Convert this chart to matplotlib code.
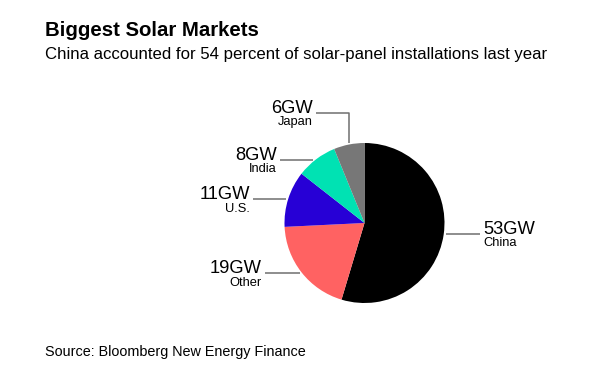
import numpy as np
import matplotlib.pyplot as plt

# solar installations last year, GW
markets = ['China', 'Other', 'U.S.', 'India', 'Japan']
gigawatts = [53, 19, 11, 8, 6]
colors = ['#000000', '#ff6262', '#2700d6', '#00e2b3', '#777777']

# label anchors in image pixels (x of text edge, baseline y, alignment)
label_pos = {
    'China': (483, 234, 'left'),
    'Other': (262, 273, 'right'),
    'U.S.': (250, 199, 'right'),
    'India': (277, 160, 'right'),
    'Japan': (313, 113, 'right'),
}

plt.rcParams['font.family'] = ['Liberation Sans', 'DejaVu Sans']

W, H = 614, 373
fig = plt.figure(figsize=(W / 100, H / 100), dpi=100)
ax = fig.add_axes([0, 0, 1, 1])

cx, cy, r = 364.5, H - 223, 80
wedges, _ = ax.pie(gigawatts, colors=colors, startangle=90, counterclock=False,
                   center=(cx, cy), radius=r, wedgeprops={'linewidth': 0})
ax.set_aspect('equal')
ax.set_xlim(0, W)
ax.set_ylim(0, H)
ax.axis('off')

line_kw = dict(color='#6f6f6f', lw=1.1, solid_capstyle='butt')

for name, val, w in zip(markets, gigawatts, wedges):
    tx, ty, ha = label_pos[name]
    y = H - ty
    ax.text(tx, y, f'{val}GW', ha=ha, va='baseline', fontsize=13.2, color='black')
    ax.text(tx, y - 12.5, name, ha=ha, va='baseline', fontsize=9.3, color='black')
    dy = y - cy
    if abs(dy) < r:
        # straight leader to the edge of the pie
        ex = np.sqrt(r ** 2 - dy ** 2)
        if ha == 'left':
            ax.plot([cx + ex + 2, tx - 3], [y, y], **line_kw)
        else:
            ax.plot([tx + 3, cx - ex - 2], [y, y], **line_kw)
    else:
        # elbow down to the wedge middle
        mid = np.radians((w.theta1 + w.theta2) / 2)
        xv = cx + r * np.cos(mid)
        yv = cy + r * np.sin(mid)
        ax.plot([tx + 3, xv, xv], [y, y, yv + 2], **line_kw)

fig.text(45 / W, 1 - 36 / H, 'Biggest Solar Markets', fontsize=14.7, fontweight='bold',
         va='baseline', ha='left')
fig.text(45 / W, 1 - 59 / H, 'China accounted for 54 percent of solar-panel installations last year',
         fontsize=12.05, va='baseline', ha='left')
fig.text(45 / W, 1 - 356 / H, 'Source: Bloomberg New Energy Finance', fontsize=10.4,
         va='baseline', ha='left')

fig.savefig('out.png', dpi=100, facecolor='white')
